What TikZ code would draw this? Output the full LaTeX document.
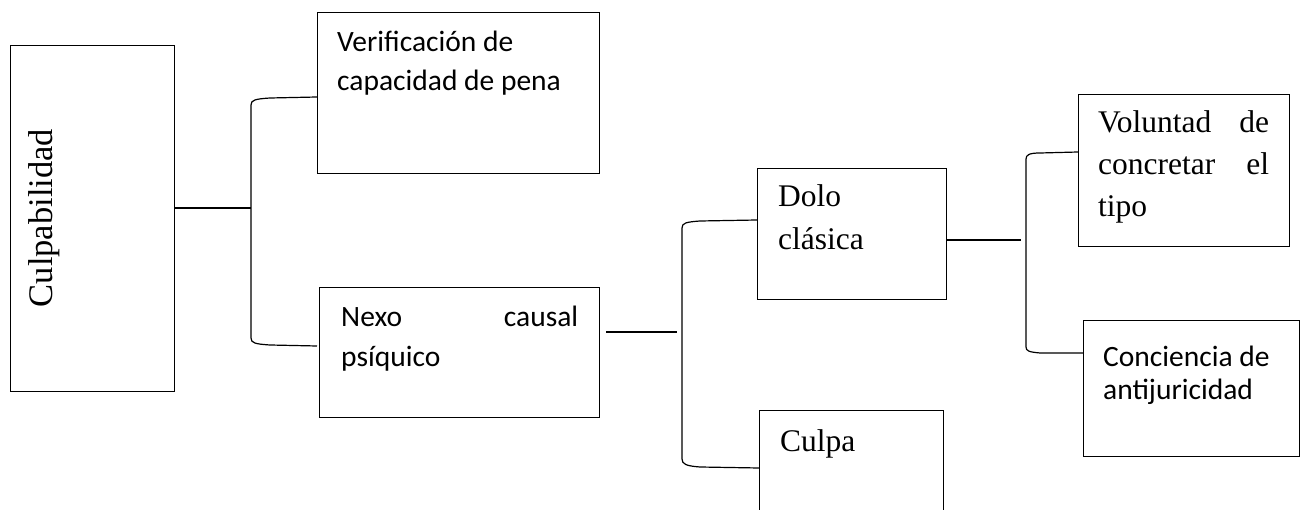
\documentclass[tikz,border=0pt]{standalone}
\usepackage{fontspec}
\setmainfont{Liberation Serif}
\newfontfamily\calib{Carlito}
\begin{document}
\begin{tikzpicture}[x=1pt,y=-1pt,
  box/.style={draw, line width=1.2pt, inner sep=0, anchor=north west},
  conn/.style={line width=1.2pt},
  txt/.style={anchor=base west, inner sep=0},
  ser/.style={txt, font=\fontsize{31.5}{42}\selectfont},
  cal/.style={txt, font=\calib\fontsize{29.5}{39}\selectfont}]
\useasboundingbox[fill=white] (0,0) rectangle (1304,510);
\clip (0,0) rectangle (1304,510);
% boxes
\node[box, minimum width=164pt, minimum height=346pt] (culp) at (10,45) {};
\node[box, minimum width=282pt, minimum height=161pt] (ver) at (317,12) {};
\node[box, minimum width=280pt, minimum height=130pt] (nexo) at (319,287) {};
\node[box, minimum width=189pt, minimum height=131pt] (dolo) at (757,168) {};
\node[box, minimum width=184pt, minimum height=140pt] (culpa) at (759,410) {};
\node[box, minimum width=211pt, minimum height=152pt] (vol) at (1078,94) {};
\node[box, minimum width=216pt, minimum height=136pt] (conc) at (1083,320) {};
% texts
\node[txt, rotate=90, anchor=base, font=\fontsize{34.5}{42}\selectfont] (tculp) at (52,218) {Culpabilidad};
\node[cal] (tver) at (337,52) {\parbox[t]{260pt}{\raggedright Verificación de\\capacidad de pena}};
\node[cal, font=\calib\fontsize{29.5}{40}\selectfont] (tnexo) at (341,327) {\parbox[t]{240pt}{\makebox[237pt]{Nexo\hfill causal}\\psíquico}};
\node[ser, font=\fontsize{31.5}{43}\selectfont] (tdolo) at (778,207) {\parbox[t]{160pt}{\raggedright Dolo\\clásica}};
\node[ser] (tculpa) at (780,451) {Culpa};
\node[ser, font=\fontsize{31.5}{42}\selectfont] (tvol) at (1098,133) {\parbox[t]{180pt}{\makebox[171pt]{Voluntad\hfill de}\\\makebox[171pt]{concretar\hfill el}\\tipo}};
\node[cal, font=\calib\fontsize{29.5}{33}\selectfont] (tconc) at (1103,367) {\parbox[t]{200pt}{\raggedright Conciencia de\\antijuricidad}};
% connector coordinates
\coordinate (j1) at (251,208);
\coordinate (a1) at (ver.west |- 0,97);
\coordinate (a2) at (ver.west |- 0,346);
\coordinate (m0) at (606,332);
\coordinate (m1) at (677,332);
\coordinate (a3) at (dolo.west |- 0,220);
\coordinate (a4) at (culpa.west |- 0,468);
\coordinate (r0) at (947,240);
\coordinate (r1) at (1021,240);
\coordinate (a5) at (vol.west |- 0,152);
\coordinate (a6) at (conc.west |- 0,353);
% connectors
\draw[conn] (j1 -| culp.east) -- (j1);
\draw[conn] (a1) -- (270,98) .. controls (255,99) and (251,100) .. (251,105)
  -- (251,338) .. controls (251,343) and (255,344) .. (270,345) -- (a2);
\draw[conn] (m0) -- (m1);
\draw[conn] (a3) -- (700,221) .. controls (686,222) and (682,223) .. (682,228)
  -- (682,459) .. controls (682,464) and (686,466) .. (700,467) -- (a4);
\draw[conn] (r0) -- (r1);
\draw[conn] (a5) -- (1040,153) .. controls (1029,153) and (1026,155) .. (1026,159)
  -- (1026,347) .. controls (1026,351) and (1029,352) .. (1040,353) -- (a6);
\end{tikzpicture}
\end{document}
